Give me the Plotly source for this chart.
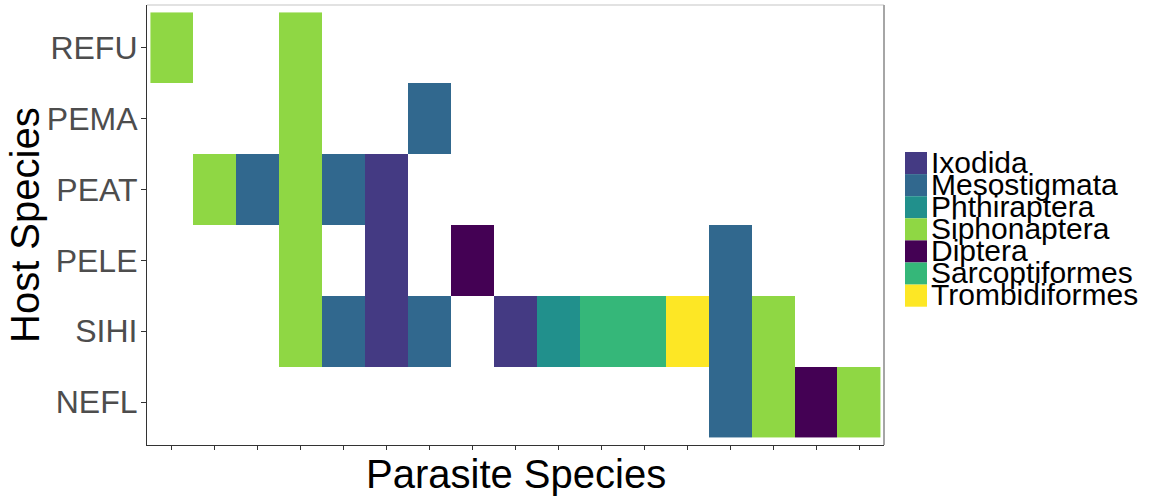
import plotly.graph_objects as go
import numpy as np

# ---- data ----
hosts = ["REFU", "PEMA", "PEAT", "PELE", "SIHI", "NEFL"]
orders = ["Ixodida", "Mesostigmata", "Phthiraptera", "Siphonaptera",
          "Diptera", "Sarcoptiformes", "Trombidiformes"]
order_colors = ["#443A83", "#31688E", "#21908C", "#8FD744",
                "#440154", "#35B779", "#FDE725"]
parasites = [f"P{i:02d}" for i in range(1, 18)]
parasite_order = ["Siphonaptera", "Siphonaptera", "Mesostigmata", "Siphonaptera",
                  "Mesostigmata", "Ixodida", "Mesostigmata", "Diptera",
                  "Ixodida", "Phthiraptera", "Sarcoptiformes", "Sarcoptiformes",
                  "Trombidiformes", "Mesostigmata", "Siphonaptera", "Diptera",
                  "Siphonaptera"]
parasite_hosts = [
    ["REFU"],
    ["PEAT"],
    ["PEAT"],
    ["REFU", "PEMA", "PEAT", "PELE", "SIHI"],
    ["PEAT", "SIHI"],
    ["PEAT", "PELE", "SIHI"],
    ["PEMA", "SIHI"],
    ["PELE"],
    ["SIHI"],
    ["SIHI"],
    ["SIHI"],
    ["SIHI"],
    ["SIHI"],
    ["PELE", "SIHI", "NEFL"],
    ["SIHI", "NEFL"],
    ["NEFL"],
    ["NEFL"],
]

# ---- build matrix ----
z = np.full((len(hosts), len(parasites)), np.nan)
for j, (p, hs) in enumerate(zip(parasites, parasite_hosts)):
    for h in hs:
        z[hosts.index(h), j] = orders.index(parasite_order[j])

n = len(orders)
colorscale = []
for k, c in enumerate(order_colors):
    colorscale.append([k / n, c])
    colorscale.append([(k + 1) / n, c])

fig = go.Figure()
fig.add_trace(go.Heatmap(
    z=z, x=list(range(len(parasites))), y=list(range(len(hosts))),
    zmin=-0.5, zmax=n - 0.5, colorscale=colorscale, showscale=False,
    hoverongaps=False, xgap=0, ygap=0,
))

# plot area in pixels
L, R, T, B = 147, 884, 5, 445
W, H = 1152, 496


def px_x(px):
    return (px - L) / (R - L)


def px_y(py):
    return (B - py) / (B - T)


shapes = [
    dict(type="line", xref="paper", yref="paper", x0=0, x1=1, y0=1, y1=1,
         line=dict(color="#D9D9D9", width=1.5)),
    dict(type="line", xref="paper", yref="paper", x0=1, x1=1, y0=0, y1=1,
         line=dict(color="#A6A6A6", width=2)),
]
annotations = []
# legend
sq_top, sq_h = 152, 22.1
for k, (name, c) in enumerate(zip(orders, order_colors)):
    y0 = sq_top + k * sq_h
    shapes.append(dict(type="rect", xref="paper", yref="paper",
                       x0=px_x(905), x1=px_x(927), y0=px_y(y0 + sq_h), y1=px_y(y0),
                       fillcolor=c, line=dict(width=0)))
    annotations.append(dict(xref="paper", yref="paper", x=px_x(929), y=px_y(y0 + sq_h / 2),
                            xanchor="left", yanchor="middle", text=name, showarrow=False,
                            yshift=1,
                            font=dict(family="Liberation Sans", size=30, color="black")))

annotations.append(dict(xref="paper", yref="paper", x=0.5, y=0, yanchor="top",
                        yshift=-5, text="Parasite Species", showarrow=False,
                        font=dict(family="Liberation Sans", size=40, color="black")))
annotations.append(dict(xref="paper", yref="paper", x=px_x(25), y=px_y(225),
                        xanchor="center", yanchor="middle", textangle=-90,
                        text="Host Species", showarrow=False,
                        font=dict(family="Liberation Sans", size=40, color="black")))

fig.update_layout(
    width=W, height=H,
    margin=dict(l=L, r=W - R, t=T, b=H - B, pad=0),
    paper_bgcolor="white", plot_bgcolor="white",
    shapes=shapes, annotations=annotations,
    xaxis=dict(range=[-0.58, len(parasites) - 0.42], showgrid=False, zeroline=False,
               showline=True, linecolor="#333333", linewidth=1.2,
               ticks="outside", ticklen=4, tickcolor="#333333",
               tickvals=list(range(len(parasites))), showticklabels=False),
    yaxis=dict(range=[len(hosts) - 0.395, -0.605], showgrid=False, zeroline=False,
               showline=True, linecolor="#333333", linewidth=1.2,
               ticks="outside", ticklen=5, tickcolor="#333333",
               ticklabelstandoff=-3,
               tickvals=list(range(len(hosts))), ticktext=hosts,
               tickfont=dict(family="Liberation Sans", size=32, color="#4D4D4D")),
)

fig.write_html("out.html", config={"displayModeBar": False},
               post_script="document.body.style.margin='0';")
